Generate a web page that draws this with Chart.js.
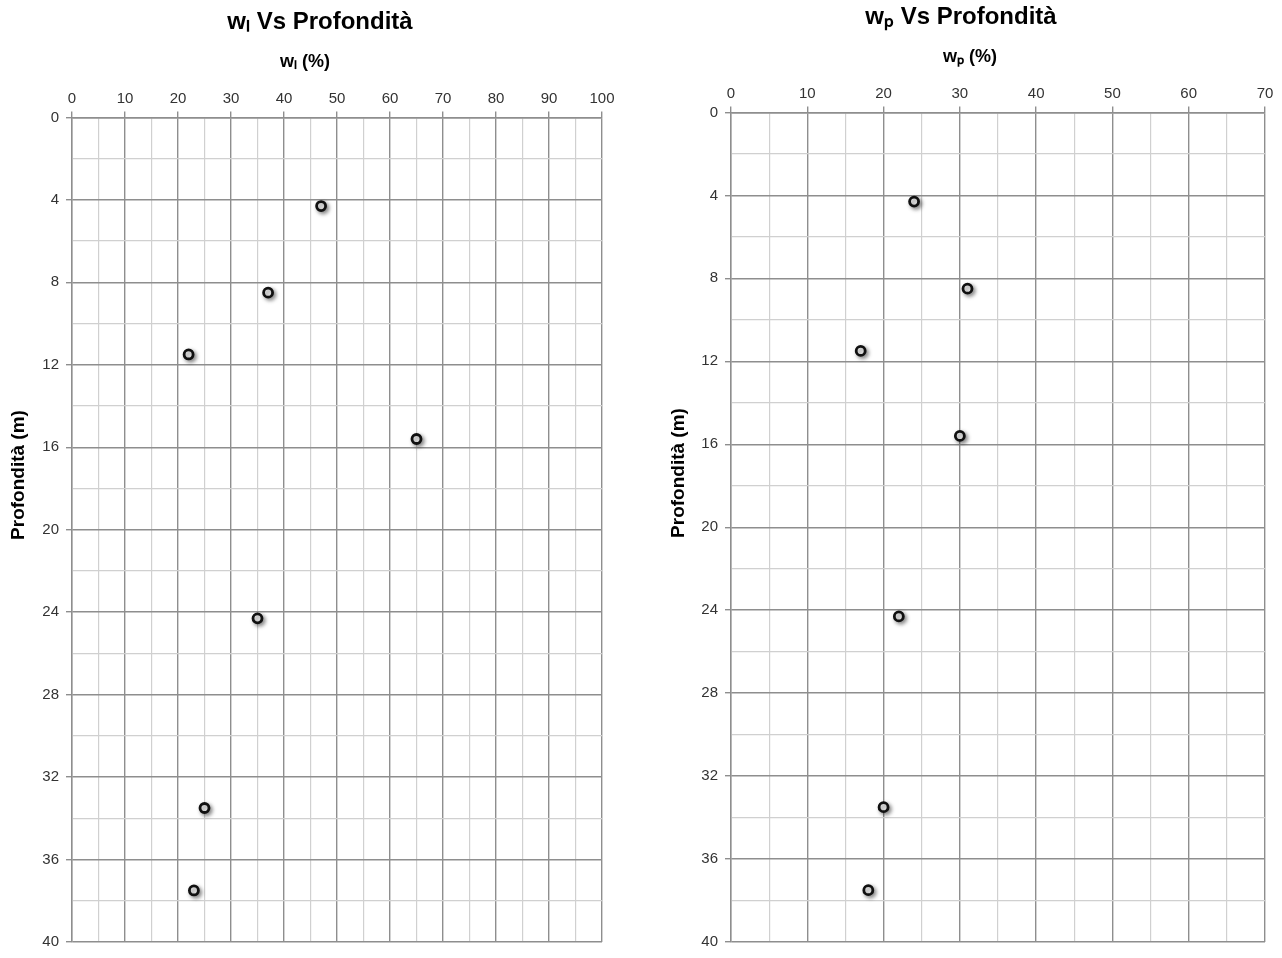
<!DOCTYPE html>
<html>
<head>
<meta charset="utf-8">
<script src="https://cdn.jsdelivr.net/npm/chart.js@4"></script>
<style>
  body { margin: 0; background: #fff; }
  .box { position: absolute; top: 0; height: 958px; }
  #left { left: 0; width: 640px; }
  #right { left: 640px; width: 642px; }
</style>
</head>
<body>
<div class="box" id="left"><canvas id="chartWl"></canvas></div>
<div class="box" id="right"><canvas id="chartWp"></canvas></div>
<script>
// depth of each sample (m)
const depths = [4.3, 8.5, 11.5, 15.6, 24.3, 33.5, 37.5];
// liquid limit w_l (%)
const wl = [47, 37, 22, 65, 35, 25, 23];
// plastic limit w_p (%)
const wp = [24, 31, 17, 30, 22, 20, 18];

const depthMax = 40;
const wlMax = 100;
const wpMax = 70;

const FONT = "'Liberation Sans', Arial, sans-serif";
const MAJOR = '#8e8e8e';
const MINOR = '#d0d0d0';

// soft drop shadow under the markers
const shadowPlugin = {
    id: 'markerShadow',
    beforeDatasetsDraw(chart) {
        const c = chart.ctx;
        c.save();
        c.shadowColor = 'rgba(0,0,0,0.45)';
        c.shadowBlur = 4;
        c.shadowOffsetX = 2;
        c.shadowOffsetY = 2;
    },
    afterDatasetsDraw(chart) {
        chart.ctx.restore();
    }
};

// axis titles sit off-centre in the original (Excel style), so draw them here
const axisTitlePlugin = {
    id: 'axisTitles',
    afterDraw(chart, args, opts) {
        const c = chart.ctx;
        const xs = chart.options.scales.x.title;
        const ys = chart.options.scales.y.title;
        c.save();
        c.fillStyle = '#000';
        c.textAlign = 'center';
        c.textBaseline = 'middle';
        c.font = 'bold 18px ' + FONT;
        c.fillText(xs.text, opts.x[0], opts.x[1]);
        c.translate(opts.y[0], opts.y[1]);
        c.rotate(-Math.PI / 2);
        c.font = 'bold 19px ' + FONT;
        c.fillText(ys.text, 0, 0);
        c.restore();
    }
};

function makeChart(id, values, xMax, title, xTitle, lay) {
    const points = values.map((v, i) => ({ x: v, y: depths[i] }));
    return new Chart(document.getElementById(id), {
        type: 'scatter',
        data: {
            datasets: [{
                data: points,
                pointRadius: 4.5,
                pointHoverRadius: 4.5,
                pointBorderWidth: 2.8,
                pointBorderColor: '#111',
                pointBackgroundColor: '#fff',
                showLine: false
            }]
        },
        options: {
            responsive: true,
            maintainAspectRatio: false,
            animation: false,
            layout: { padding: { top: 0, left: 0, right: 0, bottom: lay.bottom } },
            plugins: {
                legend: { display: false },
                tooltip: { enabled: false },
                title: {
                    display: true,
                    text: title,
                    color: '#000',
                    font: { family: FONT, size: 24, weight: 'bold' },
                    padding: { top: lay.titleTop, bottom: 8 }
                },
                axisTitles: { x: lay.xTitleAt, y: lay.yTitleAt }
            },
            scales: {
                x: {
                    type: 'linear',
                    position: 'top',
                    min: 0,
                    max: xMax,
                    afterFit: s => { s.height = lay.xHeight; },
                    ticks: {
                        stepSize: 5,
                        autoSkip: false,
                        maxRotation: 0,
                        padding: 4,
                        color: '#333',
                        font: { family: FONT, size: 15 },
                        callback: v => (v % 10 === 0 ? v : '')
                    },
                    grid: {
                        color: c => (c.tick && c.tick.value % 10 === 0 ? MAJOR : MINOR),
                        tickColor: c => (c.tick && c.tick.value % 10 === 0 ? MAJOR : 'rgba(0,0,0,0)'),
                        lineWidth: c => (c.tick && c.tick.value % 10 === 0 ? 1.4 : 1.2),
                        tickLength: 6
                    },
                    border: { color: MAJOR, width: 1.4 },
                    title: { display: false, text: xTitle }
                },
                y: {
                    type: 'linear',
                    reverse: true,
                    min: 0,
                    max: depthMax,
                    afterFit: s => { s.width = lay.yWidth; },
                    ticks: {
                        stepSize: 2,
                        autoSkip: false,
                        padding: 7,
                        color: '#333',
                        font: { family: FONT, size: 15 },
                        callback: v => (v % 4 === 0 ? v : '')
                    },
                    grid: {
                        color: c => (c.tick && c.tick.value % 4 === 0 ? MAJOR : MINOR),
                        tickColor: c => (c.tick && c.tick.value % 4 === 0 ? MAJOR : 'rgba(0,0,0,0)'),
                        lineWidth: c => (c.tick && c.tick.value % 4 === 0 ? 1.4 : 1.2),
                        tickLength: 6
                    },
                    border: { color: MAJOR, width: 1.4 },
                    title: { display: false, text: 'Profondità (m)' }
                },
                // empty strip on the right so the main title stays centred on the canvas
                pad: {
                    type: 'linear',
                    position: 'right',
                    afterFit: s => { s.width = lay.padRight; },
                    ticks: { display: false },
                    grid: { display: false },
                    border: { display: false }
                }
            }
        },
        plugins: [shadowPlugin, axisTitlePlugin]
    });
}

makeChart('chartWl', wl, wlMax, 'wₗ Vs Profondità', 'wₗ (%)', {
    padRight: 38, bottom: 13, titleTop: 8, xHeight: 72.6, yWidth: 72,
    xTitleAt: [305, 62], yTitleAt: [19, 475]
});
makeChart('chartWp', wp, wpMax, 'wₚ Vs Profondità', 'wₚ (%)', {
    padRight: 17, bottom: 12, titleTop: 3, xHeight: 72.6, yWidth: 91,
    xTitleAt: [330, 57], yTitleAt: [39, 473]
});
</script>
</body>
</html>
